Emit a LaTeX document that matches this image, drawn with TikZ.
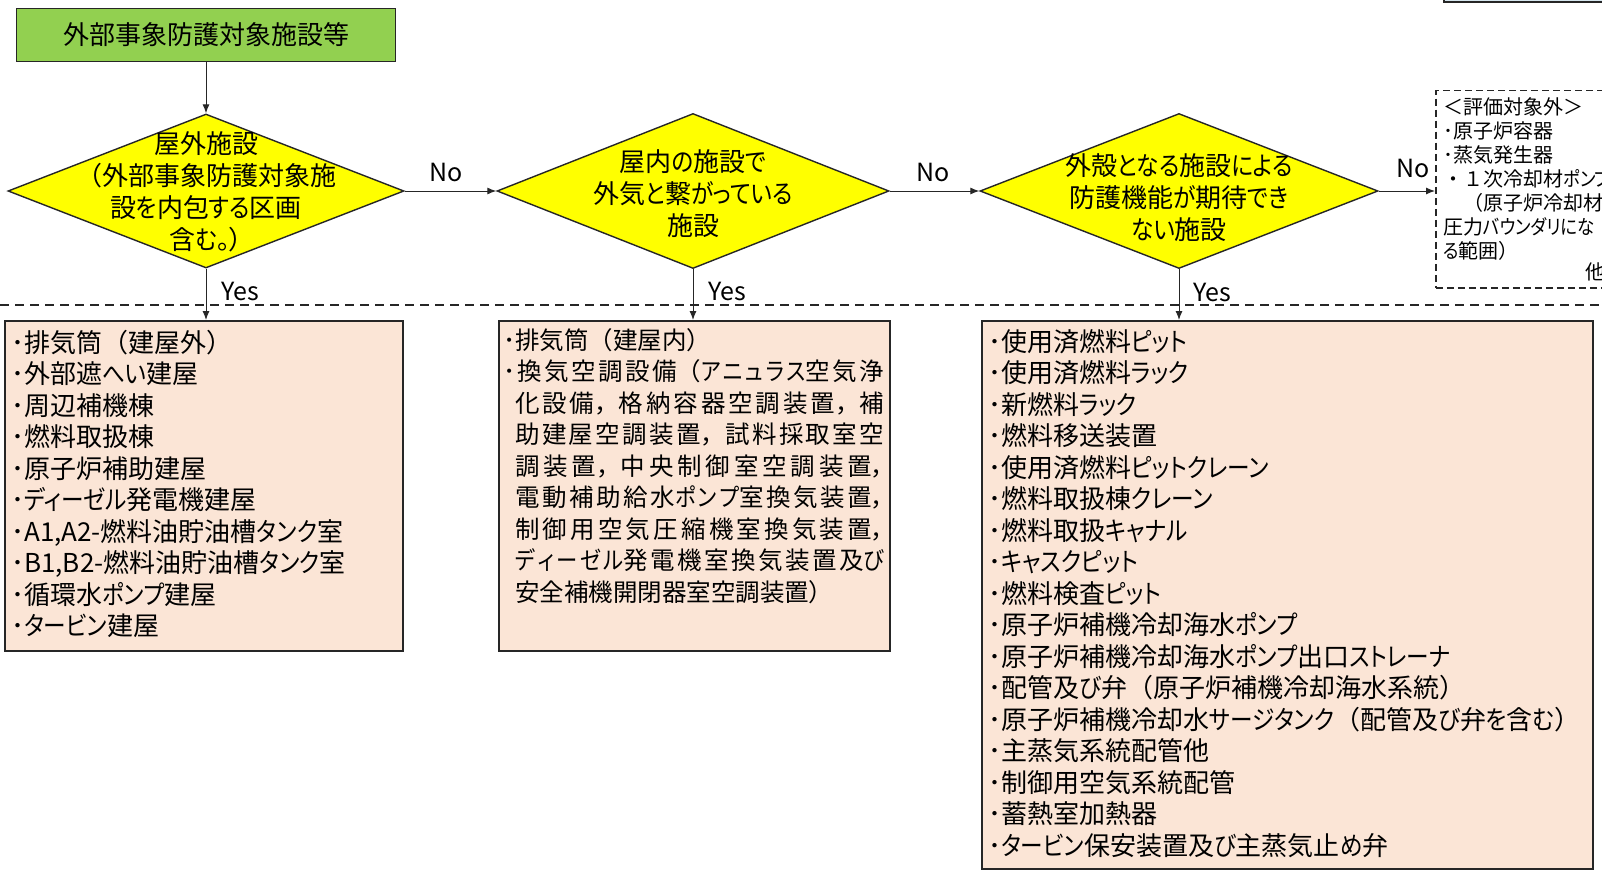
\documentclass[tikz,border=0pt]{standalone}
\usepackage{fontspec}
\setmainfont{Noto Sans CJK JP}[RawFeature=+palt]
\newfontfamily\fwfont{Noto Sans CJK JP}
\newfontfamily\kanafont{Noto Sans CJK JP}[RawFeature=+palt, FakeStretch=0.87]
\newcommand\fw[1]{{\fwfont #1}}
\newcommand\kn[1]{{\kanafont #1}}
\usetikzlibrary{shapes.geometric,arrows.meta}
\XeTeXlinebreaklocale "ja"
\XeTeXlinebreakskip=0pt plus 4pt minus 1pt
\definecolor{startgreen}{HTML}{92D050}
\definecolor{peach}{HTML}{FBE5D6}
\definecolor{qyellow}{HTML}{FFFF00}
\definecolor{edgec}{HTML}{262626}
\definecolor{topblue}{HTML}{D6E6EE}
\tikzset{
  startbox/.style={draw=edgec, line width=1.6pt, fill=startgreen, inner sep=0pt,
    minimum width=379pt, minimum height=53pt, font=\fontsize{26}{30}\selectfont},
  decision/.style={shape=diamond, draw=edgec, line width=1.4pt, fill=qyellow, inner sep=0pt},
  qtext/.style={align=center, inner sep=0pt, font=\fontsize{26}{32}\selectfont},
  listbox/.style={draw=edgec, line width=1.8pt, fill=peach, inner sep=0pt, anchor=north west},
  listtext/.style={anchor=north west, align=left, inner sep=0pt, font=\fontsize{26}{31.5}\selectfont},
  exbox/.style={draw=edgec, line width=1.5pt, dash pattern=on 7pt off 4pt, fill=white, inner sep=0pt, anchor=north west},
  extext/.style={anchor=north west, align=left, inner sep=0pt, font=\fontsize{20}{24}\selectfont},
  flow/.style={line width=1pt, draw=edgec, -{Latex[length=9pt,width=7pt]}},
  lbl/.style={inner sep=0pt, font=\fontsize{25}{28}\selectfont},
  sepline/.style={line width=2pt, draw=edgec, dash pattern=on 9pt off 6pt},
}
\begin{document}
\begin{tikzpicture}[x=1pt,y=-1pt]
\path[use as bounding box] (0,0) rectangle (1602,872);
\clip (0,0) rectangle (1602,872);
\fill[white] (0,0) rectangle (1602,872);

% partial box at top right
\node[draw=edgec, line width=1.5pt, fill=topblue, anchor=south west, minimum width=200pt, minimum height=20pt, inner sep=0pt] (topbox) at (1443,3) {};

% start
\node[startbox] (start) at (206,35) {外部事象防護対象施設等};

% decisions
\node[decision, minimum width=396pt, minimum height=154pt] (d1) at (206,191) {};
\node[decision, minimum width=392pt, minimum height=155pt] (d2) at (693,191) {};
\node[decision, minimum width=398pt, minimum height=155pt] (d3) at (1179,191) {};

\node[qtext] (q1) at (206,192) {屋外施設\\\fw{（}外部事象防護対象施\\設\kn{を}内包\kn{する}区画\\含\kn{む}。）};
\node[qtext] (q2) at (693,194) {屋内\kn{の}施設\kn{で}\\外気\kn{と}繋\kn{がっている}\\施設};
\node[qtext] (q3) at (1179,198) {外殻\kn{となる}施設\kn{による}\\防護機能\kn{が}期待\kn{でき}\\\kn{ない}施設};

% excluded box
\node[exbox, minimum width=200pt, minimum height=197pt] (ex) at (1435,90) {};
\node[extext] (ext) at (1443,97) {＜評価対象外＞\\･原子炉容器\\･蒸気発生器\\\fw{・１}次冷却材\kn{ポンプ}\\\fw{　（}原子炉冷却材\\圧力\kn{バウンダリにな}\\\kn{る}範囲）};
\node[inner sep=0pt, anchor=west, font=\fontsize{20}{24}\selectfont] (other) at (1585,272) {他};

% separator
\coordinate (sepL) at (0,305);
\coordinate (sepR) at (1602,305);
\draw[sepline] (sepL) -- (sepR);

% list boxes
\node[listbox, minimum width=398pt, minimum height=330pt] (b1) at (4,320) {};
\node[listbox, minimum width=391pt, minimum height=330pt] (b2) at (498,320) {};
\node[listbox, minimum width=611pt, minimum height=548pt] (b3) at (981,320) {};

\node[listtext] (l1) at (11,330) {･排気筒\fw{（}建屋外\fw{）}\\･外部遮\kn{へい}建屋\\･周辺補機棟\\･燃料取扱棟\\･原子炉補助建屋\\･\kn{ディーゼル}発電機建屋\\･A1,A2-燃料油貯油槽\kn{タンク}室\\･B1,B2-燃料油貯油槽\kn{タンク}室\\･循環水\kn{ポンプ}建屋\\･\kn{タービン}建屋};

\node[anchor=north west, inner sep=0pt, text width=381pt, align=justify, font=\fontsize{24.5}{31.5}\selectfont] (l2) at (503,328) {\parindent=0pt ･排気筒\fw{（}建屋内\fw{）}\par
\hangindent=12pt \hangafter=1 ･換気空調設備\fw{（}\kn{アニュラス}空気浄\linebreak 化設備\fw{，}格納容器空調装置\fw{，}補\linebreak 助建屋空調装置\fw{，}試料採取室空\linebreak 調装置\fw{，}中央制御室空調装置，\linebreak 電動補助給水\kn{ポンプ}室換気装置，\linebreak 制御用空気圧縮機室換気装置，\linebreak \kn{ディーゼル}発電機室換気装置及\kn{び}\linebreak 安全補機開閉器室空調装置）\par};

\node[listtext] (l3) at (988,329) {･使用済燃料\kn{ピット}\\･使用済燃料\kn{ラック}\\･新燃料\kn{ラック}\\･燃料移送装置\\･使用済燃料\kn{ピットクレーン}\\･燃料取扱棟\kn{クレーン}\\･燃料取扱\kn{キャナル}\\･\kn{キャスクピット}\\･燃料検査\kn{ピット}\\･原子炉補機冷却海水\kn{ポンプ}\\･原子炉補機冷却海水\kn{ポンプ}出口\kn{ストレーナ}\\･配管及\kn{び}弁\fw{（}原子炉補機冷却海水系統\fw{）}\\･原子炉補機冷却水\kn{サージタンク}\fw{（}配管及\kn{び}弁\kn{を}含\kn{む}\fw{）}\\･主蒸気系統配管他\\･制御用空気系統配管\\･蓄熱室加熱器\\･\kn{タービン}保安装置及\kn{び}主蒸気止\kn{め}弁};

% connectors
\draw[flow] (start.south) -- (d1.north);
\draw[flow] (d1.east) -- (d2.west);
\draw[flow] (d2.east) -- (d3.west);
\draw[flow] (d3.east) -- (d3.east -| ex.west);
\draw[flow] (d1.south) -- (d1.south |- b1.north);
\draw[flow] (d2.south) -- (d2.south |- b2.north);
\draw[flow] (d3.south) -- (d3.south |- b3.north);

% labels
\node[lbl] (no1) at (446,172) {No};
\node[lbl] (no2) at (933,172) {No};
\node[lbl] (no3) at (1413,168) {No};
\node[lbl, anchor=west] (y1) at (221,291) {Yes};
\node[lbl, anchor=west] (y2) at (708,291) {Yes};
\node[lbl, anchor=west] (y3) at (1193,292) {Yes};
\end{tikzpicture}
\end{document}
